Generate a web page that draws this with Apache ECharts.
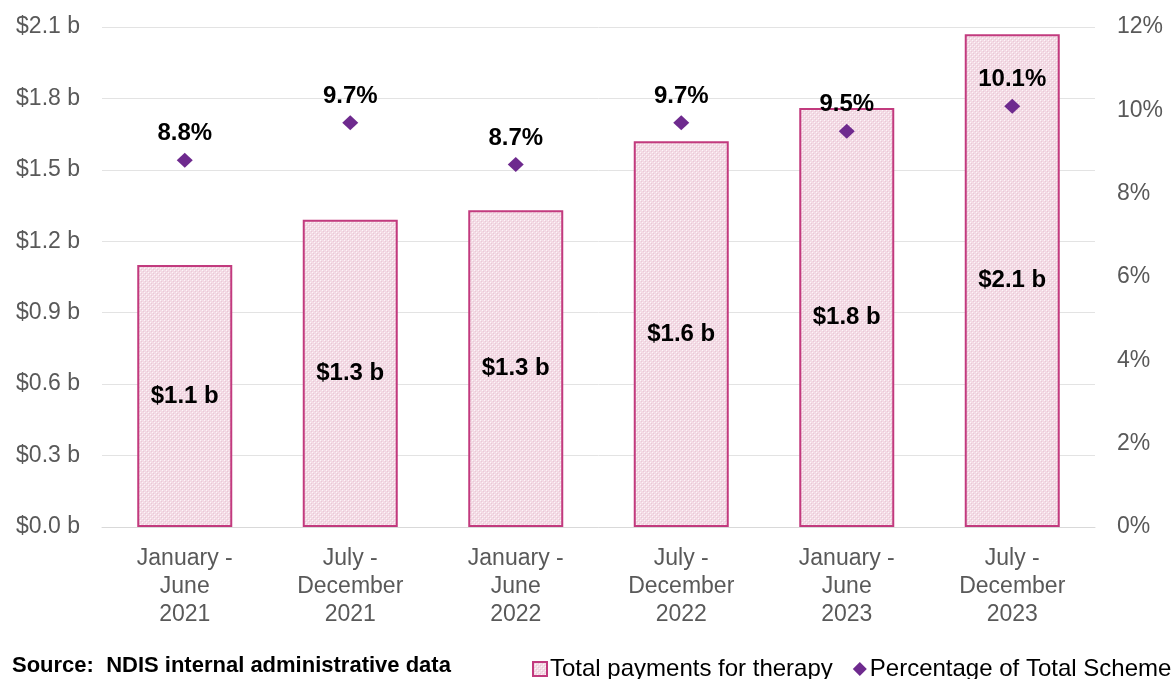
<!DOCTYPE html>
<html>
<head>
<meta charset="utf-8">
<script src="https://cdn.jsdelivr.net/npm/echarts@6/dist/echarts.min.js"></script>
<style>
  html, body { margin: 0; padding: 0; background: #fff; }
  #chart { width: 1174px; height: 679px; }
</style>
</head>
<body>
<div id="chart"></div>
<script>
// Half-year periods
const categories = [
  'January -\nJune\n2021',
  'July -\nDecember\n2021',
  'January -\nJune\n2022',
  'July -\nDecember\n2022',
  'January -\nJune\n2023',
  'July -\nDecember\n2023'
];
// Total payments for therapy, $ billion
const therapyPayments = [1.10, 1.29, 1.33, 1.62, 1.76, 2.07];
// Therapy share of total scheme payments, %
const schemeShare = [8.8, 9.7, 8.7, 9.7, 9.5, 10.1];

const paymentTicks = { min: 0, max: 2.1, interval: 0.3 };
const shareTicks = { min: 0, max: 12, interval: 2 };

// Dotted pink fill for the bars
function makePattern() {
  const c = document.createElement('canvas');
  c.width = 4; c.height = 4;
  const g = c.getContext('2d');
  g.fillStyle = '#f3dbe5';
  g.fillRect(0, 0, 4, 4);
  g.fillStyle = '#fdf6f9';
  g.fillRect(0, 0, 1, 1);
  g.fillRect(2, 2, 1, 1);
  g.fillStyle = '#eac8d6';
  g.fillRect(1, 1, 1, 1);
  g.fillRect(3, 3, 1, 1);
  return c;
}

const font = '"Liberation Sans", Arial, sans-serif';
const chart = echarts.init(document.getElementById('chart'));
chart.setOption({
  animation: false,
  textStyle: { fontFamily: font },
  grid: { left: 102, right: 79, top: 27, bottom: 152 },
  graphic: [{
    type: 'text', left: 12, top: 655,
    style: { text: 'Source:  NDIS internal administrative data', font: 'bold 22px ' + font, fill: '#000' }
  }],
  legend: {
    left: 527, top: 652, width: 1400, itemGap: 20, itemWidth: 14, itemHeight: 14,
    textStyle: { fontSize: 24, color: '#000', fontFamily: font, padding: [0, 0, 0, -2] },
    data: [
      { name: 'Total payments for therapy', icon: 'rect' },
      { name: 'Percentage of Total Scheme payments', icon: 'diamond' }
    ]
  },
  xAxis: {
    type: 'category',
    data: categories,
    axisTick: { show: false },
    axisLine: { lineStyle: { color: '#d9d9d9', width: 1 } },
    axisLabel: { fontSize: 23, color: '#595959', lineHeight: 28, margin: 18 }
  },
  yAxis: [
    {
      type: 'value', ...paymentTicks,
      axisLabel: { fontSize: 23, color: '#595959', margin: 22, formatter: v => '$' + v.toFixed(1) + ' b' },
      splitLine: { lineStyle: { color: '#e3e3e3' } }
    },
    {
      type: 'value', ...shareTicks,
      axisLabel: { fontSize: 23, color: '#595959', margin: 22, formatter: v => v + '%' },
      splitLine: { show: false }
    }
  ],
  series: [
    {
      name: 'Total payments for therapy',
      type: 'bar',
      data: therapyPayments,
      barWidth: 95,
      itemStyle: {
        color: { image: makePattern(), repeat: 'repeat' },
        borderColor: '#c23a7e', borderWidth: 2
      },
      label: {
        show: true, position: 'inside', fontSize: 24, fontWeight: 'bold', color: '#000',
        formatter: p => '$' + p.value.toFixed(1) + ' b'
      }
    },
    {
      name: 'Percentage of Total Scheme payments',
      type: 'line',
      yAxisIndex: 1,
      data: schemeShare,
      lineStyle: { width: 0 },
      symbol: 'diamond', symbolSize: [16, 15],
      itemStyle: { color: '#6e2a8e' },
      label: {
        show: true, position: 'top', distance: 7, fontSize: 24, fontWeight: 'bold', color: '#000',
        formatter: p => p.value.toFixed(1) + '%'
      }
    }
  ]
});
</script>
</body>
</html>
